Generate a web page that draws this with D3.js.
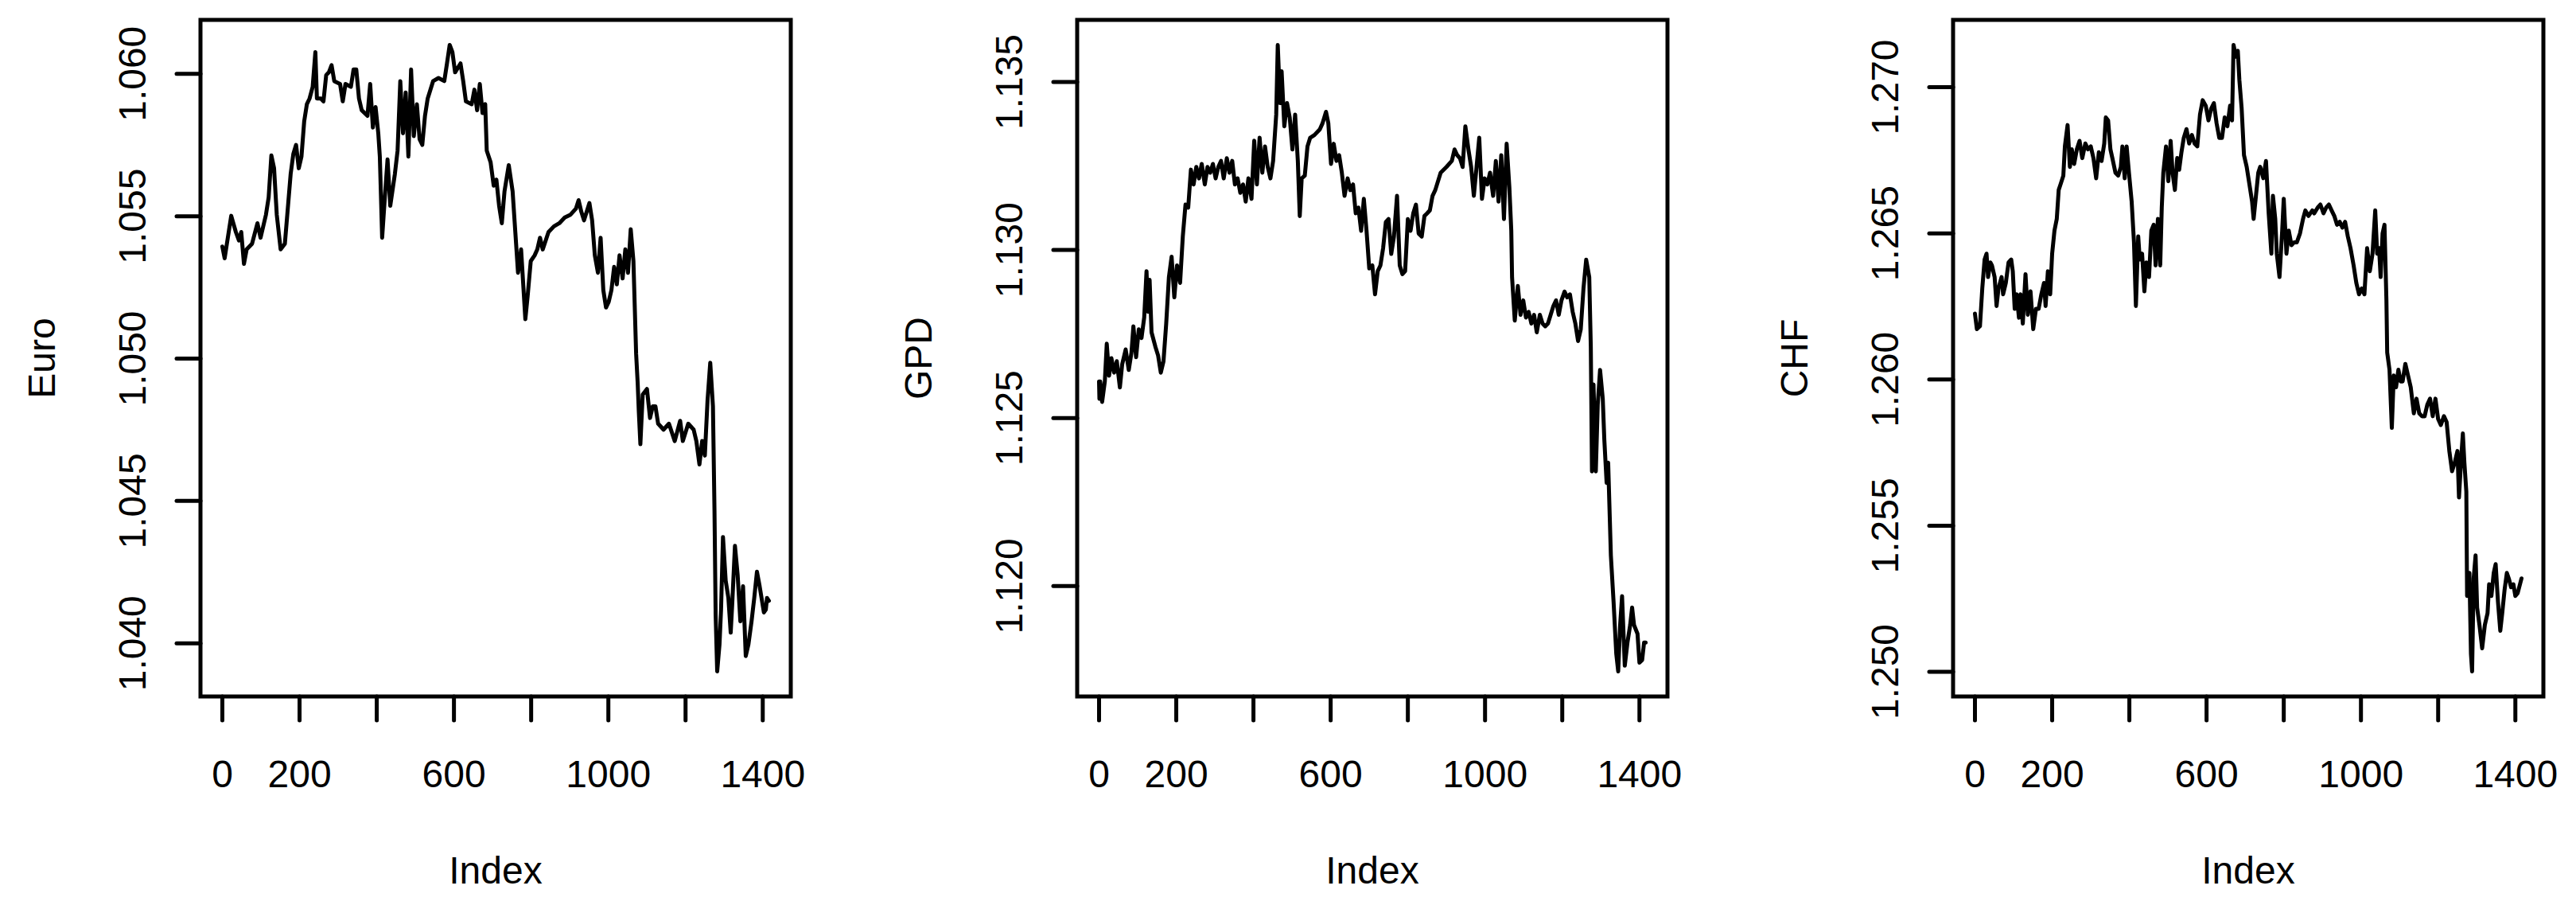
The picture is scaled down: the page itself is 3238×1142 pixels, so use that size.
<!DOCTYPE html>
<html>
<head>
<meta charset="utf-8">
<script src="https://cdn.jsdelivr.net/npm/d3@7"></script>
<style>
    body { margin: 0; background: #fff; }
    svg text { font-family: "Liberation Sans", Arial, Helvetica, sans-serif; fill: #000; }
</style>
</head>
<body>
<div id="chart"></div>
<script>

// ---- data ----

const xTicks = [0, 200, 400, 600, 800, 1000, 1200, 1400];
const xTickLabels = [0, 200, 600, 1000, 1400];   // R drops the labels that would overlap

const euroTicks = [1.040, 1.045, 1.050, 1.055, 1.060];
const gpdTicks = [1.120, 1.125, 1.130, 1.135];
const chfTicks = [1.250, 1.255, 1.260, 1.265, 1.270];

const euroIndex = [1, 7, 24, 36, 44, 50, 57, 64, 78, 92, 100, 114, 121, 128, 135, 142, 152, 163, 178, 185, 192, 199, 206, 213, 220, 227, 235, 242, 246, 256, 263, 270, 277, 284, 291, 306, 313, 320, 334, 341, 348, 355, 362, 377, 384, 391, 398, 405, 409, 415, 422, 429, 436, 448, 455, 462, 469, 476, 483, 490, 497, 505, 512, 519, 526, 533, 547, 561, 576, 583, 590, 597, 604, 618, 625, 632, 647, 654, 661, 668, 675, 682, 686, 696, 704, 711, 718, 725, 732, 743, 753, 760, 767, 775, 786, 792, 800, 810, 817, 824, 831, 846, 860, 874, 888, 903, 917, 924, 931, 938, 952, 959, 966, 974, 981, 988, 995, 1002, 1009, 1016, 1023, 1030, 1038, 1045, 1052, 1059, 1066, 1073, 1077, 1080, 1084, 1090, 1101, 1109, 1116, 1123, 1130, 1144, 1158, 1173, 1187, 1194, 1208, 1222, 1229, 1237, 1244, 1251, 1258, 1265, 1272, 1276, 1279, 1283, 1289, 1293, 1298, 1305, 1312, 1318, 1322, 1329, 1336, 1343, 1350, 1357, 1364, 1372, 1379, 1386, 1393, 1404, 1409, 1412, 1417];
const euroValues = [1.05392, 1.05351, 1.05500, 1.05443, 1.05413, 1.05443, 1.05331, 1.05382, 1.05402, 1.05474, 1.05423, 1.05504, 1.05565, 1.05712, 1.05667, 1.05504, 1.05382, 1.05402, 1.05647, 1.05718, 1.05749, 1.05667, 1.05708, 1.05831, 1.05892, 1.05912, 1.05953, 1.06075, 1.05912, 1.05912, 1.05902, 1.05994, 1.06004, 1.06029, 1.05973, 1.05963, 1.05902, 1.05963, 1.05953, 1.06014, 1.06014, 1.05912, 1.05871, 1.05851, 1.05963, 1.05810, 1.05882, 1.05790, 1.05708, 1.05423, 1.05565, 1.05698, 1.05535, 1.05647, 1.05729, 1.05973, 1.05790, 1.05933, 1.05708, 1.06014, 1.05780, 1.05892, 1.05769, 1.05749, 1.05851, 1.05912, 1.05973, 1.05984, 1.05973, 1.06035, 1.06100, 1.06075, 1.06004, 1.06035, 1.05973, 1.05902, 1.05892, 1.05943, 1.05871, 1.05963, 1.05861, 1.05892, 1.05729, 1.05688, 1.05606, 1.05627, 1.05535, 1.05474, 1.05586, 1.05678, 1.05586, 1.05443, 1.05300, 1.05382, 1.05137, 1.05219, 1.05341, 1.05361, 1.05382, 1.05423, 1.05382, 1.05443, 1.05463, 1.05474, 1.05494, 1.05504, 1.05525, 1.05555, 1.05514, 1.05484, 1.05545, 1.05484, 1.05361, 1.05300, 1.05423, 1.05239, 1.05178, 1.05198, 1.05239, 1.05321, 1.05259, 1.05361, 1.05280, 1.05382, 1.05300, 1.05453, 1.05341, 1.05015, 1.04913, 1.04811, 1.04698, 1.04872, 1.04892, 1.04790, 1.04831, 1.04831, 1.04770, 1.04749, 1.04770, 1.04709, 1.04780, 1.04709, 1.04770, 1.04749, 1.04709, 1.04627, 1.04709, 1.04658, 1.04852, 1.04984, 1.04831, 1.04464, 1.04097, 1.03900, 1.03995, 1.04117, 1.04372, 1.04219, 1.04158, 1.04036, 1.04138, 1.04341, 1.04239, 1.04076, 1.04199, 1.03954, 1.03995, 1.04076, 1.04158, 1.04250, 1.04199, 1.04107, 1.04117, 1.04158, 1.04148];

const gpdIndex = [1, 2, 4, 9, 16, 21, 27, 33, 40, 47, 55, 61, 70, 78, 85, 90, 97, 104, 111, 118, 124, 128, 132, 137, 147, 154, 161, 168, 175, 182, 189, 196, 203, 211, 218, 225, 232, 239, 246, 253, 260, 267, 275, 282, 289, 296, 303, 310, 317, 324, 332, 339, 346, 353, 360, 367, 374, 381, 388, 396, 403, 410, 417, 424, 431, 438, 445, 452, 460, 464, 470, 474, 481, 488, 495, 502, 509, 516, 521, 526, 534, 541, 548, 559, 573, 580, 589, 595, 602, 609, 616, 623, 630, 637, 645, 652, 659, 666, 673, 680, 687, 694, 701, 709, 716, 723, 730, 737, 744, 751, 758, 765, 773, 780, 787, 794, 801, 808, 815, 822, 829, 837, 844, 851, 858, 865, 872, 886, 901, 915, 922, 929, 936, 943, 950, 958, 965, 972, 979, 986, 993, 1000, 1007, 1014, 1022, 1029, 1036, 1043, 1050, 1057, 1064, 1069, 1071, 1078, 1086, 1093, 1100, 1107, 1114, 1121, 1128, 1135, 1143, 1150, 1157, 1164, 1171, 1178, 1185, 1192, 1199, 1207, 1214, 1221, 1228, 1235, 1242, 1249, 1256, 1263, 1271, 1275, 1278, 1282, 1288, 1293, 1299, 1306, 1310, 1316, 1320, 1327, 1334, 1341, 1346, 1351, 1356, 1363, 1370, 1377, 1382, 1387, 1396, 1401, 1408, 1413, 1417];
const gpdValues = [1.12608, 1.12556, 1.12608, 1.12547, 1.12608, 1.12720, 1.12625, 1.12677, 1.12634, 1.12668, 1.12590, 1.12659, 1.12703, 1.12642, 1.12694, 1.12772, 1.12680, 1.12763, 1.12737, 1.12798, 1.12936, 1.12815, 1.12910, 1.12754, 1.12711, 1.12685, 1.12634, 1.12668, 1.12780, 1.12918, 1.12979, 1.12858, 1.12953, 1.12901, 1.13039, 1.13134, 1.13125, 1.13238, 1.13194, 1.13246, 1.13212, 1.13255, 1.13194, 1.13246, 1.13229, 1.13255, 1.13212, 1.13246, 1.13264, 1.13212, 1.13272, 1.13229, 1.13264, 1.13194, 1.13212, 1.13169, 1.13194, 1.13143, 1.13212, 1.13151, 1.13324, 1.13194, 1.13333, 1.13229, 1.13307, 1.13246, 1.13212, 1.13264, 1.13402, 1.13609, 1.13436, 1.13531, 1.13367, 1.13436, 1.13393, 1.13298, 1.13402, 1.13264, 1.13100, 1.13212, 1.13220, 1.13307, 1.13333, 1.13341, 1.13358, 1.13376, 1.13410, 1.13376, 1.13255, 1.13315, 1.13264, 1.13281, 1.13229, 1.13160, 1.13212, 1.13177, 1.13194, 1.13108, 1.13125, 1.13056, 1.13151, 1.13056, 1.12944, 1.12953, 1.12867, 1.12936, 1.12953, 1.13005, 1.13082, 1.13091, 1.12987, 1.13039, 1.13160, 1.12953, 1.12927, 1.12936, 1.13091, 1.13056, 1.13108, 1.13134, 1.13048, 1.13039, 1.13100, 1.13108, 1.13117, 1.13160, 1.13177, 1.13229, 1.13246, 1.13264, 1.13298, 1.13281, 1.13272, 1.13246, 1.13367, 1.13298, 1.13246, 1.13160, 1.13246, 1.13333, 1.13151, 1.13212, 1.13194, 1.13229, 1.13160, 1.13264, 1.13143, 1.13281, 1.13091, 1.13315, 1.13186, 1.13056, 1.12918, 1.12789, 1.12892, 1.12806, 1.12849, 1.12798, 1.12815, 1.12780, 1.12806, 1.12754, 1.12806, 1.12780, 1.12772, 1.12780, 1.12806, 1.12832, 1.12849, 1.12806, 1.12849, 1.12875, 1.12858, 1.12867, 1.12815, 1.12780, 1.12728, 1.12763, 1.12884, 1.12970, 1.12918, 1.12711, 1.12340, 1.12599, 1.12340, 1.12539, 1.12642, 1.12556, 1.12435, 1.12306, 1.12366, 1.12090, 1.11952, 1.11797, 1.11745, 1.11883, 1.11969, 1.11762, 1.11831, 1.11883, 1.11935, 1.11883, 1.11857, 1.11771, 1.11779, 1.11831, 1.11831];

const chfIndex = [1, 6, 14, 20, 26, 31, 35, 41, 45, 52, 57, 62, 70, 74, 81, 88, 95, 99, 104, 109, 115, 119, 125, 132, 138, 145, 152, 159, 166, 173, 180, 184, 190, 196, 201, 207, 213, 218, 223, 230, 234, 241, 247, 252, 258, 265, 272, 279, 287, 294, 301, 308, 315, 322, 329, 336, 340, 346, 352, 357, 365, 372, 379, 383, 389, 394, 400, 407, 413, 418, 424, 428, 434, 440, 445, 452, 458, 464, 469, 475, 481, 485, 489, 496, 502, 508, 513, 519, 525, 530, 536, 542, 549, 556, 563, 570, 577, 584, 591, 599, 606, 613, 620, 627, 634, 641, 648, 655, 662, 667, 671, 677, 682, 686, 692, 698, 705, 712, 719, 723, 729, 735, 740, 748, 755, 762, 769, 773, 779, 783, 790, 797, 801, 808, 814, 821, 828, 835, 843, 851, 857, 865, 875, 880, 889, 896, 904, 911, 918, 925, 932, 939, 946, 953, 960, 967, 974, 982, 989, 996, 1003, 1010, 1017, 1024, 1031, 1038, 1043, 1048, 1052, 1057, 1062, 1067, 1069, 1075, 1081, 1086, 1092, 1098, 1104, 1109, 1116, 1123, 1130, 1138, 1145, 1152, 1159, 1166, 1173, 1180, 1187, 1194, 1201, 1208, 1216, 1223, 1230, 1237, 1244, 1251, 1255, 1261, 1265, 1269, 1274, 1276, 1282, 1286, 1289, 1293, 1298, 1302, 1308, 1315, 1322, 1329, 1333, 1339, 1345, 1350, 1356, 1362, 1367, 1373, 1379, 1384, 1390, 1396, 1401, 1407, 1417];
const chfValues = [1.26224, 1.26171, 1.26181, 1.26310, 1.26409, 1.26429, 1.26349, 1.26399, 1.26389, 1.26349, 1.26250, 1.26310, 1.26349, 1.26290, 1.26329, 1.26399, 1.26409, 1.26369, 1.26240, 1.26290, 1.26210, 1.26290, 1.26190, 1.26359, 1.26220, 1.26300, 1.26171, 1.26240, 1.26240, 1.26290, 1.26329, 1.26250, 1.26369, 1.26290, 1.26429, 1.26508, 1.26548, 1.26647, 1.26667, 1.26696, 1.26796, 1.26869, 1.26726, 1.26786, 1.26736, 1.26786, 1.26815, 1.26756, 1.26806, 1.26786, 1.26796, 1.26756, 1.26687, 1.26776, 1.26746, 1.26806, 1.26895, 1.26885, 1.26786, 1.26756, 1.26706, 1.26696, 1.26726, 1.26796, 1.26687, 1.26796, 1.26706, 1.26607, 1.26468, 1.26250, 1.26488, 1.26409, 1.26429, 1.26300, 1.26399, 1.26349, 1.26508, 1.26528, 1.26389, 1.26548, 1.26389, 1.26587, 1.26706, 1.26796, 1.26677, 1.26815, 1.26706, 1.26647, 1.26756, 1.26716, 1.26776, 1.26825, 1.26855, 1.26806, 1.26835, 1.26806, 1.26796, 1.26905, 1.26954, 1.26935, 1.26885, 1.26925, 1.26944, 1.26875, 1.26825, 1.26825, 1.26895, 1.26865, 1.26935, 1.26885, 1.27143, 1.27103, 1.27123, 1.27024, 1.26925, 1.26766, 1.26726, 1.26667, 1.26607, 1.26548, 1.26627, 1.26706, 1.26726, 1.26687, 1.26746, 1.26567, 1.26429, 1.26627, 1.26548, 1.26429, 1.26349, 1.26508, 1.26617, 1.26429, 1.26508, 1.26458, 1.26468, 1.26468, 1.26498, 1.26548, 1.26577, 1.26558, 1.26577, 1.26567, 1.26587, 1.26597, 1.26567, 1.26587, 1.26597, 1.26577, 1.26558, 1.26528, 1.26538, 1.26518, 1.26538, 1.26488, 1.26448, 1.26389, 1.26329, 1.26290, 1.26310, 1.26290, 1.26448, 1.26369, 1.26429, 1.26577, 1.26429, 1.26448, 1.26349, 1.26498, 1.26528, 1.26270, 1.26091, 1.26032, 1.25833, 1.26012, 1.25972, 1.26032, 1.25992, 1.25992, 1.26052, 1.26012, 1.25972, 1.25883, 1.25933, 1.25883, 1.25873, 1.25873, 1.25913, 1.25933, 1.25873, 1.25933, 1.25863, 1.25843, 1.25873, 1.25853, 1.25754, 1.25685, 1.25714, 1.25754, 1.25595, 1.25734, 1.25814, 1.25714, 1.25615, 1.25258, 1.25337, 1.25060, 1.25000, 1.25318, 1.25397, 1.25218, 1.25159, 1.25079, 1.25159, 1.25199, 1.25298, 1.25258, 1.25337, 1.25367, 1.25238, 1.25139, 1.25199, 1.25278, 1.25337, 1.25318, 1.25288, 1.25298, 1.25258, 1.25268, 1.25318];


/* * * * * * * * * * * * * *
*       IndexPlot          *
* * * * * * * * * * * * * */

class IndexPlot {

    constructor(svg, left, label, index, values, yTicks) {
        this.svg = svg;
        this.left = left;
        this.label = label;
        this.index = index;
        this.values = values;
        this.yTicks = yTicks;

        this.initVis();
    }

    initVis() {
        let vis = this;

        vis.margin = {top: 25, bottom: 267};
        vis.width = 742;
        vis.height = 1142 - vis.margin.top - vis.margin.bottom;

        vis.g = vis.svg.append("g")
            .attr("transform", `translate(${vis.left}, ${vis.margin.top})`);

        vis.displayData = vis.index.map((d, i) => [d, vis.values[i]]);

        // R style ranges: data extent padded by 4% on each side
        let n = d3.max(vis.index);
        let xPad = 0.04 * (n - 1);
        let yExt = d3.extent(vis.values);
        let yPad = 0.04 * (yExt[1] - yExt[0]);

        vis.x = d3.scaleLinear()
            .domain([1 - xPad, n + xPad])
            .range([0, vis.width]);

        vis.y = d3.scaleLinear()
            .domain([yExt[0] - yPad, yExt[1] + yPad])
            .range([vis.height, 0]);

        vis.xAxis = d3.axisBottom(vis.x)
            .tickValues(xTicks)
            .tickSize(30)
            .tickFormat(d => xTickLabels.includes(d) ? d : "");

        vis.yAxis = d3.axisLeft(vis.y)
            .tickValues(vis.yTicks)
            .tickSize(30)
            .tickFormat(d3.format(".3f"));

        vis.updateVis();
    }

    updateVis() {
        let vis = this;

        let line = d3.line()
            .x(d => vis.x(d[0]))
            .y(d => vis.y(d[1]));

        vis.g.append("path")
            .datum(vis.displayData)
            .attr("d", line)
            .attr("fill", "none")
            .attr("stroke", "#000")
            .attr("stroke-width", 5)
            .attr("stroke-linejoin", "round")
            .attr("stroke-linecap", "round");

        // x axis
        let xg = vis.g.append("g")
            .attr("transform", `translate(0, ${vis.height})`)
            .call(vis.xAxis);
        xg.select(".domain").remove();
        xg.selectAll("line")
            .attr("stroke-width", 5)
            .attr("stroke-linecap", "round");
        xg.selectAll("text")
            .attr("y", 114)
            .attr("dy", null)
            .attr("font-size", 48)
            .attr("font-family", null);

        // y axis, labels parallel to the axis
        let yg = vis.g.append("g").call(vis.yAxis);
        yg.select(".domain").remove();
        yg.selectAll("line")
            .attr("stroke-width", 5)
            .attr("stroke-linecap", "round");
        yg.selectAll("text")
            .attr("x", null)
            .attr("dy", null)
            .attr("transform", "translate(-69, 0) rotate(-90)")
            .attr("text-anchor", "middle")
            .attr("font-size", 48)
            .attr("font-family", null);

        // box
        vis.g.append("rect")
            .attr("width", vis.width)
            .attr("height", vis.height)
            .attr("fill", "none")
            .attr("stroke", "#000")
            .attr("stroke-width", 5);

        // titles
        vis.g.append("text")
            .attr("x", vis.width / 2)
            .attr("y", vis.height + 235)
            .attr("text-anchor", "middle")
            .attr("font-size", 48)
            .text("Index");

        vis.g.append("text")
            .attr("transform", `translate(-183, ${vis.height / 2}) rotate(-90)`)
            .attr("text-anchor", "middle")
            .attr("font-size", 48)
            .text(vis.label);
    }
}


let svg = d3.select("#chart").append("svg")
    .attr("width", 3238)
    .attr("height", 1142)
    .style("display", "block");

new IndexPlot(svg, 252, "Euro", euroIndex, euroValues, euroTicks);
new IndexPlot(svg, 1354, "GPD", gpdIndex, gpdValues, gpdTicks);
new IndexPlot(svg, 2455, "CHF", chfIndex, chfValues, chfTicks);

</script>
</body>
</html>
